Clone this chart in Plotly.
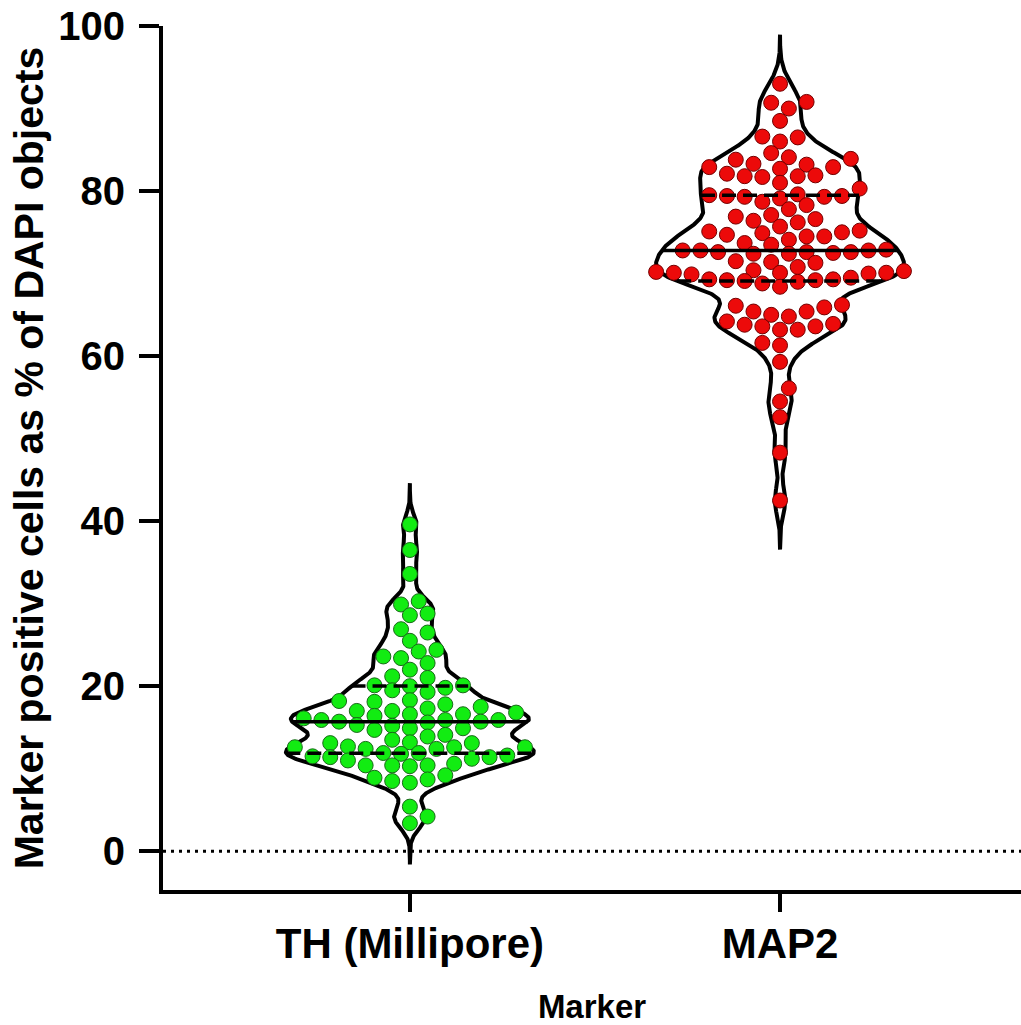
import numpy as np
import plotly.graph_objects as go

# ---- data -------------------------------------------------------------
categories = ["TH (Millipore)", "MAP2"]

th_values = [
    39.6, 36.5, 33.6, 30.3, 29.9, 28.6, 28.8, 26.9, 26.5, 25.5,
    23.6, 23.4, 24.2, 24.4, 22.8, 22.0, 21.2, 21.0, 20.1, 20.1,
    19.5, 19.3, 19.8, 20.0, 18.3, 18.2, 17.0, 17.3, 18.1, 17.8,
    17.5, 16.8, 17.0, 16.6, 16.6, 16.4, 16.1, 15.9, 15.9, 15.3,
    14.9, 15.9, 15.7, 15.7, 14.9, 15.6, 15.2, 14.7, 13.9, 13.2,
    14.1, 13.1, 13.1, 13.5, 11.8, 12.6, 12.7, 11.2, 11.9, 12.4,
    12.4, 12.6, 11.4, 12.6, 11.4, 11.9, 11.6, 11.5, 10.3, 10.4,
    10.6, 11.0, 10.4, 10.4, 9.2, 8.7, 8.9, 8.5, 8.3, 5.4,
    3.4, 4.2,
]

map2_values = [
    93.0, 90.8, 90.7, 90.0, 88.5, 86.6, 86.0, 86.5, 84.6, 84.1,
    83.9, 83.2, 83.3, 83.8, 82.9, 82.7, 82.9, 81.8, 81.8, 82.1,
    81.7, 81.9, 81.0, 80.3, 79.6, 79.4, 79.4, 79.3, 79.1, 78.7,
    79.3, 79.5, 78.3, 77.8, 77.1, 76.6, 76.4, 76.9, 76.2, 75.7,
    75.2, 75.0, 74.7, 74.9, 74.5, 74.5, 75.1, 74.1, 73.7, 73.5,
    72.9, 72.6, 72.6, 72.8, 72.8, 72.6, 72.8, 72.4, 72.5, 72.4,
    71.5, 71.4, 71.3, 70.8, 69.9, 70.2, 70.3, 70.4, 70.0, 70.1,
    70.1, 70.1, 69.2, 69.2, 69.1, 68.4, 68.8, 69.3, 69.5, 69.3,
    69.0, 66.1, 65.9, 65.4, 66.2, 65.4, 64.8, 64.2, 65.0, 63.6,
    63.9, 63.2, 63.6, 63.2, 63.8, 61.3, 61.6, 59.3, 56.1, 54.5,
    52.6, 48.3, 42.5,
]

y_tick_values = [0, 20, 40, 60, 80, 100]

# ---- figure geometry and styling ---------------------------------------
W, H = 1021, 1025
M_L, M_R, M_T, M_B = 163, 0, 26, 135
X_RANGE = (-0.667, 1.651)
Y_RANGE = (-4.7, 100)
PX_X = (W - M_L - M_R) / (X_RANGE[1] - X_RANGE[0])   # pixels per category unit
PX_Y = (H - M_T - M_B) / (Y_RANGE[1] - Y_RANGE[0])   # pixels per percent

HALF_WIDTH = 0.335         # widest half-width of each violin (category units)
DOT_SIZE = 15              # marker diameter in px
COL_STEP = 17.7            # horizontal spacing between swarm columns in px
MIN_GAP = 13.5             # minimum centre distance between dots in px
TAIL_UNITS = 5.0           # violin tails run this far (in %) past the data

FONT = "Liberation Sans, Arial, sans-serif"

groups = [
    dict(values=th_values, bw=1.2, fill="rgb(18,236,18)", edge="rgb(25,105,25)"),
    dict(values=map2_values, bw=1.7, fill="rgb(236,10,10)", edge="rgb(115,0,0)"),
]


def density_outline(values, bw):
    """Gaussian kernel density, scaled so its maximum equals HALF_WIDTH."""
    v = np.asarray(values, dtype=float)
    ext = max(TAIL_UNITS, 3.5 * bw)
    grid = np.linspace(v.min() - ext, v.max() + ext, 800)
    dens = np.exp(-0.5 * ((grid[:, None] - v[None, :]) / bw) ** 2).sum(axis=1)
    return grid, HALF_WIDTH * dens / dens.max()


def swarm_offsets(values):
    """Column-based beeswarm: each dot takes the free slot nearest the centre."""
    v = np.asarray(values, dtype=float)
    order = np.argsort(v, kind="stable")
    placed = []
    offsets = np.zeros(len(v))
    flip = 1
    for i in order:
        y = v[i] * PX_Y
        k = 0
        while True:
            sides = [0] if k == 0 else [flip, -flip]
            chosen = None
            for s in sides:
                x = s * k * COL_STEP / 2
                if all((x - px) ** 2 + (y - py) ** 2 >= MIN_GAP ** 2 for px, py in placed):
                    chosen = x
                    break
            if chosen is not None:
                if k:
                    flip = -flip
                break
            k += 1
        placed.append((chosen, y))
        offsets[i] = chosen / PX_X
    return offsets


fig = go.Figure()

# dotted reference line at zero
fig.add_shape(type="line", xref="paper", x0=0, x1=1, yref="y", y0=0, y1=0,
              line=dict(color="black", width=3, dash="3px,5px"), layer="below")

summary_lines = []
for pos, g in enumerate(groups):
    grid, half = density_outline(g["values"], g["bw"])
    xs = np.concatenate([pos + half, (pos - half)[::-1], [pos + half[0]]])
    ys = np.concatenate([grid, grid[::-1], [grid[0]]])
    fig.add_trace(go.Scatter(x=xs, y=ys, mode="lines",
                             line=dict(color="black", width=4),
                             hoverinfo="skip", showlegend=False))

    offs = swarm_offsets(g["values"])
    fig.add_trace(go.Scatter(
        x=pos + offs, y=g["values"], mode="markers",
        marker=dict(size=DOT_SIZE, color=g["fill"],
                    line=dict(color=g["edge"], width=1)),
        name=categories[pos], showlegend=False))

    q1, med, q3 = np.percentile(g["values"], [25, 50, 75], method="weibull")
    for q, dash in ((q1, "14px,7px"), (med, "solid"), (q3, "14px,7px")):
        w = float(np.interp(q, grid, half))
        summary_lines.append((pos - w, pos + w, q, dash))

for x0, x1, q, dash in summary_lines:
    fig.add_trace(go.Scatter(x=[x0, x1], y=[q, q], mode="lines",
                             line=dict(color="black", width=3.5, dash=dash),
                             hoverinfo="skip", showlegend=False))

fig.update_layout(
    width=W, height=H,
    margin=dict(l=M_L, r=M_R, t=M_T, b=M_B, pad=0),
    paper_bgcolor="white", plot_bgcolor="white",
    font=dict(family=FONT, color="black"),
    xaxis=dict(
        range=list(X_RANGE), tickmode="array",
        tickvals=list(range(len(categories))), ticktext=categories,
        showline=True, linecolor="black", linewidth=4,
        ticks="outside", ticklen=18, tickwidth=4, tickcolor="black",
        tickfont=dict(family=FONT, size=42, weight="bold"),
        ticklabelstandoff=-4,
        showgrid=False, zeroline=False,
        title=dict(text="Marker", font=dict(family=FONT, size=33, weight="bold"),
                   standoff=30),
    ),
    yaxis=dict(
        range=list(Y_RANGE), tickmode="array", tickvals=y_tick_values,
        showline=True, linecolor="black", linewidth=4,
        ticks="outside", ticklen=20, tickwidth=4, tickcolor="black",
        tickfont=dict(family=FONT, size=40, weight="bold"),
        ticklabelstandoff=6,
        showgrid=False, zeroline=False,
        title=dict(text="Marker positive cells as % of DAPI objects",
                   font=dict(family=FONT, size=41, weight="bold"),
                   standoff=3),
    ),
)

fig.write_html("out.html")
